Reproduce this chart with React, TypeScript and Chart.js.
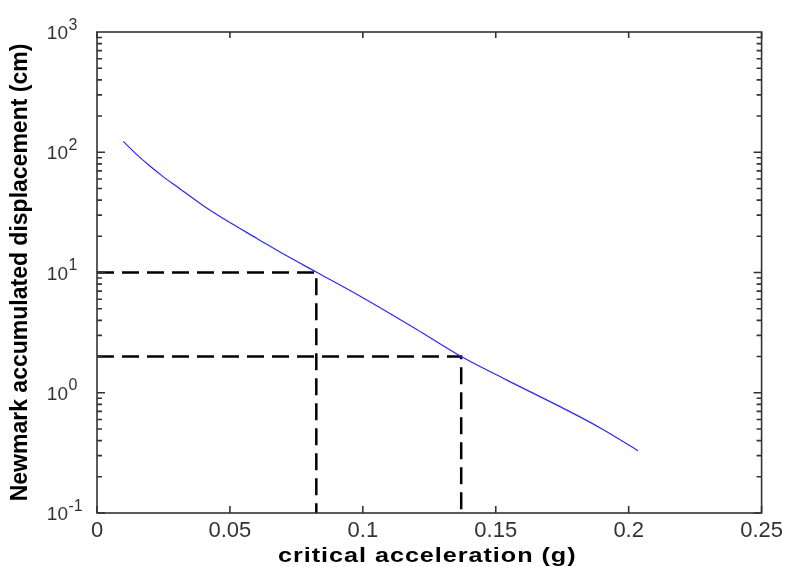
import React, { useEffect, useRef } from 'react';
import { Chart, registerables } from 'chart.js';

Chart.register(...registerables);

// ---- data ----
const curveX = [0.0099, 0.015, 0.02, 0.025, 0.03, 0.04, 0.05, 0.06, 0.07, 0.0828, 0.1, 0.12, 0.137, 0.154, 0.1766, 0.19, 0.2035];
const curveY = [123, 95.5, 76.4, 62.4, 51.9, 35.9, 26.0, 19.3, 14.3, 10, 6.17, 3.39, 2.0, 1.28, 0.72, 0.5, 0.33];

const guide10X = [0, 0.0825, 0.0825];
const guide10Y = [10, 10, 0.1];
const guide2X = [0, 0.137, 0.137];
const guide2Y = [2, 2, 0.1];

const xTickValues = [0, 0.05, 0.1, 0.15, 0.2, 0.25];
const xTickLabels = ['0', '0.05', '0.1', '0.15', '0.2', '0.25'];
const yTickValues = [0.1, 1, 10, 100, 1000];
const yTickBase = '10';
const yTickExponents = ['-1', '0', '1', '2', '3'];

const xTitle = 'critical acceleration (g)';
const yTitle = 'Newmark accumulated displacement (cm)';

const toPoints = (xs: number[], ys: number[]) => xs.map((v, i) => ({ x: v, y: ys[i] }));

const FONT = '"Liberation Sans", Arial, "DejaVu Sans", sans-serif';

const boxPlugin = {
  id: 'matlabBox',
  afterDraw(chart: any) {
    const { ctx, chartArea, scales } = chart;
    const { left, right, top, bottom } = chartArea;
    const x = scales.x;
    const y = scales.y;
    ctx.save();
    // box
    ctx.strokeStyle = '#333';
    ctx.lineWidth = 1.6;
    ctx.strokeRect(left, top, right - left, bottom - top);
    // inward tick marks
    ctx.beginPath();
    for (const v of xTickValues) {
      const px = x.getPixelForValue(v);
      ctx.moveTo(px, bottom);
      ctx.lineTo(px, bottom - 7);
      ctx.moveTo(px, top);
      ctx.lineTo(px, top + 6);
    }
    const yMin = yTickValues[0];
    const yMax = yTickValues[yTickValues.length - 1];
    for (let d = yMin; d < yMax * 0.999; d *= 10) {
      for (let m = 1; m <= 9; m++) {
        const py = y.getPixelForValue(d * m);
        const len = m === 1 ? 8 : 5;
        ctx.moveTo(left, py);
        ctx.lineTo(left + len, py);
        ctx.moveTo(right, py);
        ctx.lineTo(right - len, py);
      }
    }
    ctx.stroke();

    // y tick labels with superscript exponents
    ctx.fillStyle = '#333';
    ctx.textBaseline = 'alphabetic';
    yTickValues.forEach((v, i) => {
      const py = y.getPixelForValue(v);
      ctx.font = '19px ' + FONT;
      ctx.textAlign = 'right';
      ctx.fillText(yTickBase, left - 29, py + 7);
      ctx.font = '16px ' + FONT;
      ctx.textAlign = 'left';
      ctx.fillText(yTickExponents[i], left - 28.5, py - 2.5);
    });

    // x axis title (stretched like the reference)
    ctx.fillStyle = '#000';
    ctx.translate((left + right) / 2 - 2, 561.5);
    ctx.scale(1.2, 1);
    ctx.font = 'bold 21px ' + FONT;
    (ctx as any).letterSpacing = '0.8px';
    ctx.textAlign = 'center';
    ctx.fillText(xTitle, 0, 0);
    ctx.restore();
  },
};

export default function App() {
  const ref = useRef<HTMLCanvasElement | null>(null);

  useEffect(() => {
    if (!ref.current) return;
    const chart = new Chart(ref.current, {
      type: 'line',
      data: {
        datasets: [
          {
            data: toPoints(curveX, curveY),
            borderColor: 'rgb(40,40,255)',
            borderWidth: 1.2,
            pointRadius: 0,
            tension: 0.3,
          },
          {
            data: toPoints(guide10X, guide10Y),
            borderColor: '#000',
            borderWidth: 2.5,
            borderDash: [17, 8],
            pointRadius: 0,
            tension: 0,
          },
          {
            data: toPoints(guide2X, guide2Y),
            borderColor: '#000',
            borderWidth: 2.5,
            borderDash: [17, 8],
            pointRadius: 0,
            tension: 0,
          },
        ],
      },
      options: {
        responsive: false,
        animation: false,
        devicePixelRatio: 1,
        layout: { padding: { left: 0, right: 25, top: 32, bottom: 0 } },
        plugins: { legend: { display: false }, tooltip: { enabled: false } },
        scales: {
          x: {
            type: 'linear',
            min: 0,
            max: 0.25,
            afterBuildTicks: (s: any) => {
              s.ticks = xTickValues.map((v) => ({ value: v }));
            },
            afterFit: (s: any) => {
              s.height = 54;
            },
            grid: { display: false, drawTicks: false },
            border: { display: false },
            ticks: {
              autoSkip: false,
              maxRotation: 0,
              padding: 5,
              color: '#333',
              font: { family: FONT, size: 22 },
              callback: (v: any) => {
                const i = xTickValues.findIndex((t) => Math.abs(t - Number(v)) < 1e-9);
                return i >= 0 ? xTickLabels[i] : '';
              },
            },
          },
          y: {
            type: 'logarithmic',
            min: 0.1,
            max: 1000,
            afterBuildTicks: (s: any) => {
              s.ticks = yTickValues.map((v) => ({ value: v, major: true }));
            },
            afterFit: (s: any) => {
              s.width = 97;
            },
            grid: { display: false, drawTicks: false },
            border: { display: false },
            title: {
              display: true,
              text: yTitle,
              color: '#000',
              font: { family: FONT, size: 23, weight: 'bold' },
              padding: { top: 7, bottom: 0 },
            },
            ticks: { display: false },
          },
        },
      },
      plugins: [boxPlugin],
    });
    return () => chart.destroy();
  }, []);

  return (
    <div style={{ position: 'fixed', left: 0, top: 0, width: 788, height: 567, background: '#fff' }}>
      <canvas ref={ref} width={788} height={567} />
    </div>
  );
}
